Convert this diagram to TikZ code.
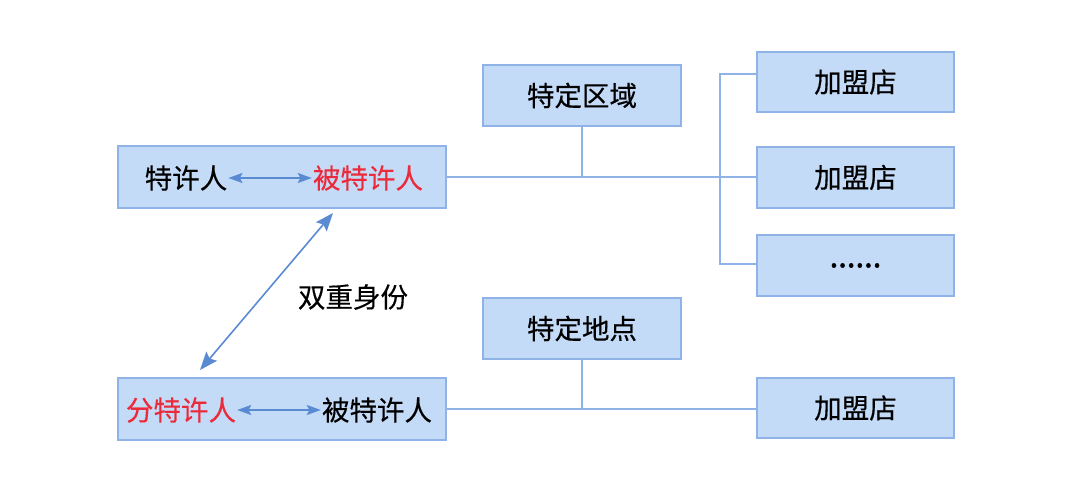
\documentclass[tikz,border=0pt]{standalone}
\usepackage{fontspec}
\newfontfamily\cjk[FakeBold=0.4]{Noto Sans CJK SC}
\newfontfamily\cjkdots[FakeBold=1.5]{Noto Sans CJK SC}
\usetikzlibrary{arrows.meta}
\definecolor{boxfill}{HTML}{C4DBF8}
\definecolor{boxline}{HTML}{8FB3E6}
\definecolor{arrowc}{HTML}{5A8AD2}
\definecolor{redc}{HTML}{EC2B3A}
\tikzset{
  box/.style={draw=boxline, fill=boxfill, line width=1.4pt, inner sep=0pt},
  lbl/.style={font=\cjk\fontsize{27.5}{31}\selectfont, inner sep=1pt, text=black},
  conn/.style={draw=boxline, line width=1.4pt},
  harr/.style={draw=arrowc, line width=1.4pt, {Stealth[length=14pt,width=10pt,inset=2.5pt]}-{Stealth[length=14pt,width=10pt,inset=2.5pt]}},
  darr/.style={draw=arrowc, line width=1.6pt, {Stealth[length=18pt,width=14pt,inset=3pt]}-{Stealth[length=18pt,width=14pt,inset=3pt]}}
}
\begin{document}
\begin{tikzpicture}[x=1pt,y=-1pt]
\useasboundingbox (0,0) rectangle (1080,480);
% main boxes
\node[box, minimum width=328pt, minimum height=62pt] (top) at (282,177) {};
\node[box, minimum width=328pt, minimum height=62pt] (bot) at (282,409) {};
% zone boxes
\node[box, minimum width=198pt, minimum height=61pt, lbl] (zone) at (582,95.5) {特定区域};
\node[box, minimum width=198pt, minimum height=61pt, lbl] (place) at (582,328.5) {特定地点};
% stores
\node[box, minimum width=197pt, minimum height=60pt, lbl] (s1) at (855.5,82) {加盟店};
\node[box, minimum width=197pt, minimum height=61pt, lbl] (s2) at (855.5,177.5) {加盟店};
\node[box, minimum width=197pt, minimum height=61pt, lbl, font=\cjkdots\fontsize{31}{34}\selectfont] (s3) at (855.5,265.5) {......};
\node[box, minimum width=197pt, minimum height=60pt, lbl] (s4) at (855.5,408) {加盟店};
% texts in main boxes
\node[lbl] (a1) at (186,178) {特许人};
\node[lbl, text=redc] (a2) at (368,178) {被特许人};
\node[lbl, text=redc] (b1) at (181,410) {分特许人};
\node[lbl] (b2) at (377,410) {被特许人};
\draw[harr] (a1.east) -- (a2.west);
\draw[harr] (b1.east) -- (b2.west);
% diagonal
\coordinate (d1) at (200,370);
\coordinate (d2) at (333,213);
\draw[darr] (d1) -- (d2);
\node[lbl] (dual) at (353,297) {双重身份};
% connectors top
\coordinate (j1) at (582,177);
\coordinate (j2) at (720,177);
\draw[conn] (top.east |- j1) -- (s2.west |- j1);
\draw[conn] (zone.south) -- (j1);
\draw[conn] ([yshift=8pt]s1.west) -| (j2) |- ([yshift=1.5pt]s3.west);
% connectors bottom
\coordinate (j3) at (582,409);
\draw[conn] (bot.east |- j3) -- (s4.west |- j3);
\draw[conn] (place.south) -- (j3);
\end{tikzpicture}
\end{document}
